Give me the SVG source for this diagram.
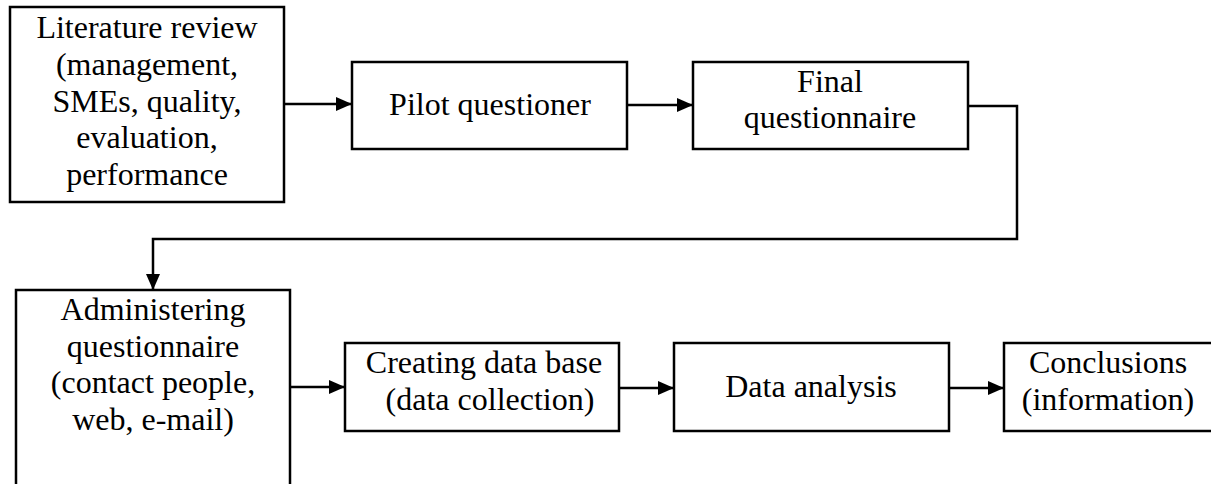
<svg xmlns="http://www.w3.org/2000/svg" width="1211" height="484" viewBox="0 0 1211 484">
  <style>
    .box { fill: #ffffff; stroke: #000000; stroke-width: 2.5; }
    .lbl { font-family: "Liberation Serif", "Times New Roman", serif; font-size: 32px; fill: #000000; text-anchor: middle; }
    .wire { fill: none; stroke: #000000; stroke-width: 2.5; }
  </style>
  <defs>
    <marker id="arrow" viewBox="0 0 16 14" refX="16" refY="7" markerWidth="16" markerHeight="14" markerUnits="userSpaceOnUse" orient="auto">
      <path d="M0,0 L16,7 L0,14 Z" fill="#000000"/>
    </marker>
  </defs>

  <rect width="1211" height="484" fill="#ffffff"/>

  <!-- connectors -->
  <g id="connectors">
    <line class="wire" x1="284" y1="104" x2="352" y2="104" marker-end="url(#arrow)"/>
    <line class="wire" x1="627" y1="105" x2="693" y2="105" marker-end="url(#arrow)"/>
    <polyline class="wire" points="968,106 1017,106 1017,239 153,239 153,290" marker-end="url(#arrow)"/>
    <line class="wire" x1="290" y1="387" x2="345" y2="387" marker-end="url(#arrow)"/>
    <line class="wire" x1="619" y1="388" x2="674" y2="388" marker-end="url(#arrow)"/>
    <line class="wire" x1="949" y1="388" x2="1004" y2="388" marker-end="url(#arrow)"/>
  </g>

  <!-- top row -->
  <g id="literature-review">
    <rect class="box" x="10" y="7" width="274" height="195"/>
    <text class="lbl" x="147" y="38">Literature review</text>
    <text class="lbl" x="147" y="75">(management,</text>
    <text class="lbl" x="147" y="112">SMEs, quality,</text>
    <text class="lbl" x="147" y="148">evaluation,</text>
    <text class="lbl" x="147" y="185">performance</text>
  </g>

  <g id="pilot-questioner">
    <rect class="box" x="352" y="62" width="275" height="87"/>
    <text class="lbl" x="490" y="115">Pilot questioner</text>
  </g>

  <g id="final-questionnaire">
    <rect class="box" x="693" y="62" width="275" height="87"/>
    <text class="lbl" x="830" y="92">Final</text>
    <text class="lbl" x="830" y="128">questionnaire</text>
  </g>

  <!-- bottom row -->
  <g id="administering-questionnaire">
    <rect class="box" x="16" y="290" width="274" height="200"/>
    <text class="lbl" x="153" y="320">Administering</text>
    <text class="lbl" x="153" y="357">questionnaire</text>
    <text class="lbl" x="153" y="393">(contact people,</text>
    <text class="lbl" x="153" y="430">web, e-mail)</text>
  </g>

  <g id="creating-data-base">
    <rect class="box" x="345" y="343" width="274" height="88"/>
    <text class="lbl" x="484" y="373">Creating data base</text>
    <text class="lbl" x="490" y="410">(data collection)</text>
  </g>

  <g id="data-analysis">
    <rect class="box" x="674" y="343" width="275" height="88"/>
    <text class="lbl" x="811" y="397">Data analysis</text>
  </g>

  <g id="conclusions">
    <rect class="box" x="1004" y="343" width="220" height="88"/>
    <text class="lbl" x="1108" y="373">Conclusions</text>
    <text class="lbl" x="1108" y="410">(information)</text>
  </g>
</svg>
